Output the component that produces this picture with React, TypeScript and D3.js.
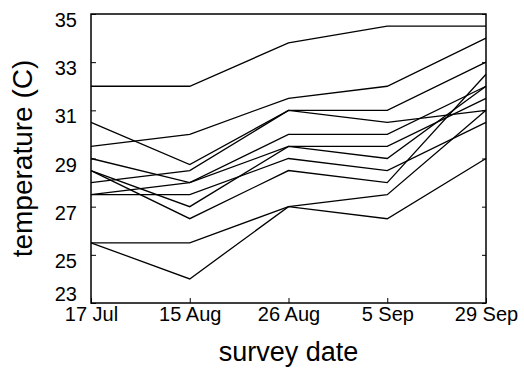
import * as d3 from "d3"
import { useEffect, useRef } from "react"

const surveyDates = ["17 Jul", "15 Aug", "26 Aug", "5 Sep", "29 Sep"]
const yTicks = [23, 25, 27, 29, 31, 33, 35]

// one temperature series per site
const siteA = [32, 32, 33.8, 34.5, 34.5]
const siteB = [29.5, 30, 31.5, 32, 34]
const siteC = [30.5, 28.75, 31, 31, 33]
const siteD = [29, 28, 30, 30, 32]
const siteE = [28.5, 26.5, 28.5, 28, 32.5]
const siteF = [28.5, 27, 29.5, 29, 32]
const siteG = [28, 28.5, 31, 30.5, 31]
const siteH = [27.5, 28, 29.5, 29.5, 31.5]
const siteI = [27.5, 27.5, 29, 28.5, 30.5]
const siteJ = [25.5, 25.5, 27, 27.5, 31]
const siteK = [25.5, 24, 27, 26.5, 29]

const sites = [siteA, siteB, siteC, siteD, siteE, siteF, siteG, siteH, siteI, siteJ, siteK]

const App = () => {
  const svgRef = useRef<SVGSVGElement | null>(null)

  useEffect(() => {
    if (!svgRef.current) return
    const svg = d3.select(svgRef.current)
    svg.selectAll("*").remove()

    const width = 524
    const height = 375
    const margin = { top: 14, right: 38, bottom: 72, left: 91 }
    const font = "'Liberation Sans', Arial, Helvetica, sans-serif"

    const x = d3
      .scalePoint<string>()
      .domain(surveyDates)
      .range([margin.left, width - margin.right])

    const y = d3
      .scaleLinear()
      .domain([23, 35])
      .range([height - margin.bottom, margin.top])

    const chart = svg.append("g")

    // Lines
    const line = d3
      .line<number>()
      .x((_, i) => x(surveyDates[i])!)
      .y((d) => y(d))

    chart
      .selectAll(".site")
      .data(sites)
      .enter()
      .append("path")
      .attr("class", "site")
      .attr("d", (d) => line(d))
      .attr("fill", "none")
      .attr("stroke", "#000")
      .attr("stroke-width", 1.3)

    // Y axis (ticks point inward)
    const yAxis = d3.axisLeft(y).tickValues(yTicks).tickSize(-5).tickPadding(14)
    const yG = chart
      .append("g")
      .attr("transform", `translate(${margin.left},0)`)
      .call(yAxis)
    yG.select(".domain").remove()
    yG.selectAll(".tick line").attr("stroke", "#000").attr("stroke-width", 1)
    yG.selectAll<SVGTextElement, number>(".tick text")
      .attr("fill", "#000")
      // the bottom label sits a little higher so it clears the date labels
      .attr("dy", (d) => (d === 23 ? "-3" : "12.5"))
      .style("font", `20px ${font}`)

    // Right side mirror ticks
    const yR = chart
      .append("g")
      .attr("transform", `translate(${width - margin.right},0)`)
      .call(d3.axisRight(y).tickValues(yTicks).tickSize(-4).tickFormat(() => ""))
    yR.select(".domain").remove()
    yR.selectAll(".tick line").attr("stroke", "#000").attr("stroke-width", 1)

    // X axis
    const xAxis = d3.axisBottom(x).tickSize(-5).tickPadding(4)
    const xG = chart
      .append("g")
      .attr("transform", `translate(0,${height - margin.bottom})`)
      .call(xAxis)
    xG.select(".domain").remove()
    xG.selectAll(".tick line").attr("stroke", "#000").attr("stroke-width", 1)
    xG.selectAll(".tick text")
      .attr("fill", "#000")
      .style("font", `20px ${font}`)

    // Frame
    chart
      .append("rect")
      .attr("x", margin.left)
      .attr("y", margin.top)
      .attr("width", width - margin.left - margin.right)
      .attr("height", height - margin.top - margin.bottom)
      .attr("fill", "none")
      .attr("stroke", "#000")
      .attr("stroke-width", 1.5)

    // Axis titles
    chart
      .append("text")
      .attr("x", (margin.left + width - margin.right) / 2)
      .attr("y", 361)
      .attr("text-anchor", "middle")
      .style("font", `27px ${font}`)
      .text("survey date")

    chart
      .append("text")
      .attr("transform", `translate(32,${(margin.top + height - margin.bottom) / 2}) rotate(-90)`)
      .attr("text-anchor", "middle")
      .style("font", `28px ${font}`)
      .text("temperature (C)")
  }, [])

  return (
    <div style={{ position: "absolute", left: 0, top: 0 }}>
      <svg ref={svgRef} width={524} height={375} style={{ display: "block", background: "#fff" }} />
    </div>
  )
}

export default App
